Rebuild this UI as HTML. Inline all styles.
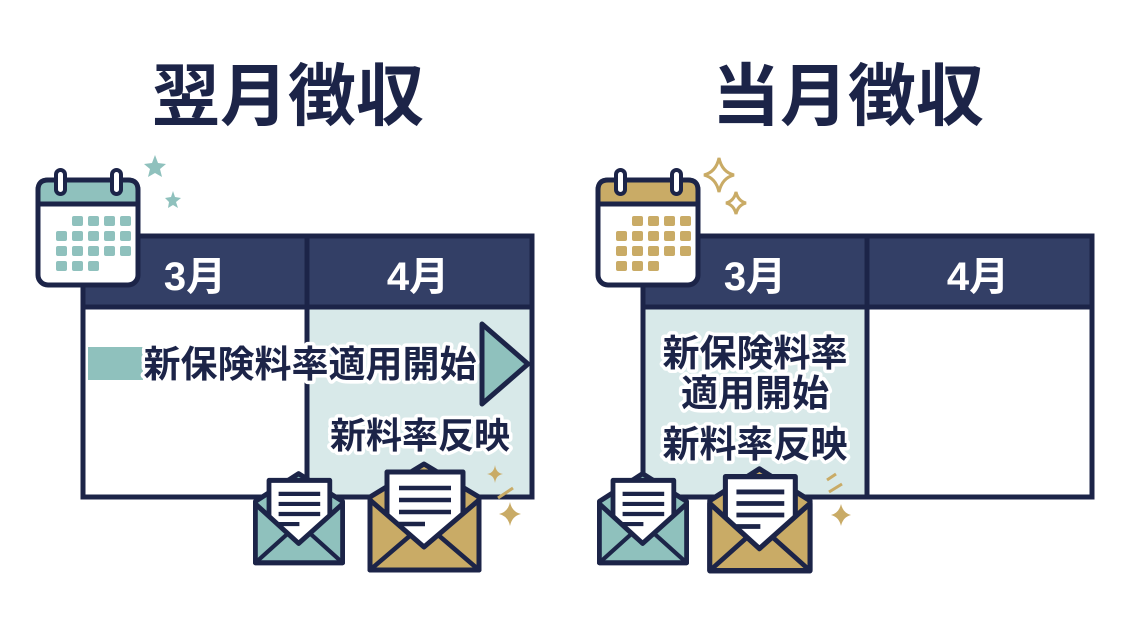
<!DOCTYPE html>
<html><head><meta charset="utf-8"><style>
html,body{margin:0;padding:0;background:#fff}
svg{display:block}
text{font-family:"Liberation Sans","Noto Sans CJK JP",sans-serif;font-weight:700}
.h{fill:#1c2448;stroke:#fff;stroke-width:7;paint-order:stroke;stroke-linejoin:round}
</style></head><body>
<svg width="1129" height="630" viewBox="0 0 1129 630" xmlns="http://www.w3.org/2000/svg">
<!-- titles -->
<text x="288" y="120" font-size="68" text-anchor="middle" fill="#1c2448">翌月徴収</text>
<text x="848" y="120" font-size="68" text-anchor="middle" fill="#1c2448">当月徴収</text>

<!-- LEFT TABLE -->
<rect x="307" y="307" width="225" height="190" fill="#d8e9e9"/>
<rect x="83" y="236" width="449" height="71" fill="#333f66"/>
<rect x="83" y="236" width="449" height="261" fill="none" stroke="#1c2448" stroke-width="5"/>
<line x1="307" y1="236" x2="307" y2="497" stroke="#1c2448" stroke-width="5"/>
<line x1="83" y1="307" x2="532" y2="307" stroke="#1c2448" stroke-width="5"/>
<text x="195" y="290" font-size="40" text-anchor="middle" fill="#fff">3月</text>
<text x="418" y="290" font-size="40" text-anchor="middle" fill="#fff">4月</text>
<rect x="88" y="347" width="55" height="33" fill="#8fc1bd"/>
<path d="M482 324 L528 364 L482 404 Z" fill="#8fc1bd" stroke="#1c2448" stroke-width="5" stroke-linejoin="round"/>
<text x="310" y="377" font-size="37" text-anchor="middle" class="h">新保険料率適用開始</text>
<text x="420" y="448" font-size="36" text-anchor="middle" class="h">新料率反映</text>

<!-- left calendar -->
<g transform="translate(36,170)">
  <rect x="2" y="10" width="100" height="105" rx="10" fill="#fff" stroke="#1c2448" stroke-width="5"/>
  <path d="M2 20 Q2 10 12 10 L92 10 Q102 10 102 20 L102 34 L2 34 Z" fill="#8fc1bd" stroke="#1c2448" stroke-width="5"/>
  <rect x="20" y="0" width="9" height="24" rx="4.5" fill="#fff" stroke="#1c2448" stroke-width="4"/>
  <rect x="76" y="0" width="9" height="24" rx="4.5" fill="#fff" stroke="#1c2448" stroke-width="4"/>
  <g fill="#8fc1bd">
    <rect x="36" y="46" width="11" height="10" rx="2"/><rect x="52" y="46" width="11" height="10" rx="2"/><rect x="68" y="46" width="11" height="10" rx="2"/><rect x="84" y="46" width="11" height="10" rx="2"/>
    <rect x="20" y="61" width="11" height="10" rx="2"/><rect x="36" y="61" width="11" height="10" rx="2"/><rect x="52" y="61" width="11" height="10" rx="2"/><rect x="68" y="61" width="11" height="10" rx="2"/><rect x="84" y="61" width="11" height="10" rx="2"/>
    <rect x="20" y="76" width="11" height="10" rx="2"/><rect x="36" y="76" width="11" height="10" rx="2"/><rect x="52" y="76" width="11" height="10" rx="2"/><rect x="68" y="76" width="11" height="10" rx="2"/><rect x="84" y="76" width="11" height="10" rx="2"/>
    <rect x="20" y="91" width="11" height="10" rx="2"/><rect x="36" y="91" width="11" height="10" rx="2"/><rect x="52" y="91" width="11" height="10" rx="2"/>
  </g>
</g>
<path d="M155 155 l3 8 8 1 -6 5 2 8 -7-4 -7 4 2-8 -6-5 8-1z" fill="#8fc1bd"/>
<path d="M173 191 l2 6 6 1 -5 4 2 6 -5-3 -5 3 1-6 -4-4 6-1z" fill="#8fc1bd"/>

<!-- RIGHT TABLE -->
<rect x="643" y="307" width="224" height="190" fill="#d8e9e9"/>
<rect x="643" y="236" width="449" height="71" fill="#333f66"/>
<rect x="643" y="236" width="449" height="261" fill="none" stroke="#1c2448" stroke-width="5"/>
<line x1="867" y1="236" x2="867" y2="497" stroke="#1c2448" stroke-width="5"/>
<line x1="643" y1="307" x2="1092" y2="307" stroke="#1c2448" stroke-width="5"/>
<text x="755" y="290" font-size="40" text-anchor="middle" fill="#fff">3月</text>
<text x="978" y="290" font-size="40" text-anchor="middle" fill="#fff">4月</text>
<text x="755" y="366" font-size="37" text-anchor="middle" class="h">新保険料率</text>
<text x="755" y="406" font-size="37" text-anchor="middle" class="h">適用開始</text>
<text x="755" y="457" font-size="37" text-anchor="middle" class="h">新料率反映</text>

<!-- right calendar -->
<g transform="translate(596,170)">
  <rect x="2" y="10" width="100" height="105" rx="10" fill="#fff" stroke="#1c2448" stroke-width="5"/>
  <path d="M2 20 Q2 10 12 10 L92 10 Q102 10 102 20 L102 34 L2 34 Z" fill="#c9ab66" stroke="#1c2448" stroke-width="5"/>
  <rect x="20" y="0" width="9" height="24" rx="4.5" fill="#fff" stroke="#1c2448" stroke-width="4"/>
  <rect x="76" y="0" width="9" height="24" rx="4.5" fill="#fff" stroke="#1c2448" stroke-width="4"/>
  <g fill="#c9ab66">
    <rect x="36" y="46" width="11" height="10" rx="2"/><rect x="52" y="46" width="11" height="10" rx="2"/><rect x="68" y="46" width="11" height="10" rx="2"/><rect x="84" y="46" width="11" height="10" rx="2"/>
    <rect x="20" y="61" width="11" height="10" rx="2"/><rect x="36" y="61" width="11" height="10" rx="2"/><rect x="52" y="61" width="11" height="10" rx="2"/><rect x="68" y="61" width="11" height="10" rx="2"/><rect x="84" y="61" width="11" height="10" rx="2"/>
    <rect x="20" y="76" width="11" height="10" rx="2"/><rect x="36" y="76" width="11" height="10" rx="2"/><rect x="52" y="76" width="11" height="10" rx="2"/><rect x="68" y="76" width="11" height="10" rx="2"/><rect x="84" y="76" width="11" height="10" rx="2"/>
    <rect x="20" y="91" width="11" height="10" rx="2"/><rect x="36" y="91" width="11" height="10" rx="2"/><rect x="52" y="91" width="11" height="10" rx="2"/>
  </g>
</g>
<path d="M719 158 Q722 172 734 175 Q722 178 719 192 Q716 178 704 175 Q716 172 719 158Z" fill="none" stroke="#c9ab66" stroke-width="3"/>
<path d="M736 192 Q738 201 746 203 Q738 205 736 214 Q734 205 726 203 Q734 201 736 192Z" fill="none" stroke="#c9ab66" stroke-width="3"/>

<!-- envelopes -->
<g transform="translate(253,472) scale(0.8,0.84)">
  <path d="M57 2 L112 35 L112 108 L3 108 L3 35 Z" fill="#8fc1bd" stroke="#1c2448" stroke-width="6" stroke-linejoin="round"/>
  <path d="M20 10 L96 10 L96 60 L57 85 L20 60 Z" fill="#fff" stroke="#1c2448" stroke-width="6" stroke-linejoin="round"/>
  <path d="M32 26 H84 M32 38 H84 M32 50 H84 M32 62 H58" stroke="#1c2448" stroke-width="5"/>
  <path d="M3 38 L57 85 L112 38 L112 108 L3 108 Z" fill="#8fc1bd" stroke="#1c2448" stroke-width="6" stroke-linejoin="round"/>
  <path d="M3 108 L45 72 M112 108 L70 72" stroke="#1c2448" stroke-width="5"/>
</g>
<g transform="translate(367,462)">
  <path d="M57 2 L112 35 L112 108 L3 108 L3 35 Z" fill="#c9ab66" stroke="#1c2448" stroke-width="5" stroke-linejoin="round"/>
  <path d="M20 10 L96 10 L96 60 L57 85 L20 60 Z" fill="#fff" stroke="#1c2448" stroke-width="5" stroke-linejoin="round"/>
  <path d="M32 26 H84 M32 38 H84 M32 50 H84 M32 62 H58" stroke="#1c2448" stroke-width="4.5"/>
  <path d="M3 38 L57 85 L112 38 L112 108 L3 108 Z" fill="#c9ab66" stroke="#1c2448" stroke-width="5" stroke-linejoin="round"/>
  <path d="M3 108 L45 72 M112 108 L70 72" stroke="#1c2448" stroke-width="4.5"/>
</g>
<g transform="translate(597,472) scale(0.8,0.84)">
  <path d="M57 2 L112 35 L112 108 L3 108 L3 35 Z" fill="#8fc1bd" stroke="#1c2448" stroke-width="6" stroke-linejoin="round"/>
  <path d="M20 10 L96 10 L96 60 L57 85 L20 60 Z" fill="#fff" stroke="#1c2448" stroke-width="6" stroke-linejoin="round"/>
  <path d="M32 26 H84 M32 38 H84 M32 50 H84 M32 62 H58" stroke="#1c2448" stroke-width="5"/>
  <path d="M3 38 L57 85 L112 38 L112 108 L3 108 Z" fill="#8fc1bd" stroke="#1c2448" stroke-width="6" stroke-linejoin="round"/>
  <path d="M3 108 L45 72 M112 108 L70 72" stroke="#1c2448" stroke-width="5"/>
</g>
<g transform="translate(707,467) scale(0.92,0.96)">
  <path d="M57 2 L112 35 L112 108 L3 108 L3 35 Z" fill="#c9ab66" stroke="#1c2448" stroke-width="5.5" stroke-linejoin="round"/>
  <path d="M20 10 L96 10 L96 60 L57 85 L20 60 Z" fill="#fff" stroke="#1c2448" stroke-width="5.5" stroke-linejoin="round"/>
  <path d="M32 26 H84 M32 38 H84 M32 50 H84 M32 62 H58" stroke="#1c2448" stroke-width="5"/>
  <path d="M3 38 L57 85 L112 38 L112 108 L3 108 Z" fill="#c9ab66" stroke="#1c2448" stroke-width="5.5" stroke-linejoin="round"/>
  <path d="M3 108 L45 72 M112 108 L70 72" stroke="#1c2448" stroke-width="5"/>
</g>

<!-- sparkles -->
<path d="M495 465 Q496 473 503 474 Q496 475 495 483 Q494 475 487 474 Q494 473 495 465Z" fill="#c9ab66"/>
<path d="M510 502 Q512 512 521 514 Q512 516 510 526 Q508 516 499 514 Q508 512 510 502Z" fill="#c9ab66"/>
<path d="M498 498 L513 488" stroke="#c9ab66" stroke-width="3"/>
<path d="M841 504 Q843 513 851 515 Q843 517 841 526 Q839 517 831 515 Q839 513 841 504Z" fill="#c9ab66"/>
<path d="M827 480 L836 474 M829 492 L842 484" stroke="#c9ab66" stroke-width="3"/>
</svg>
</body></html>
